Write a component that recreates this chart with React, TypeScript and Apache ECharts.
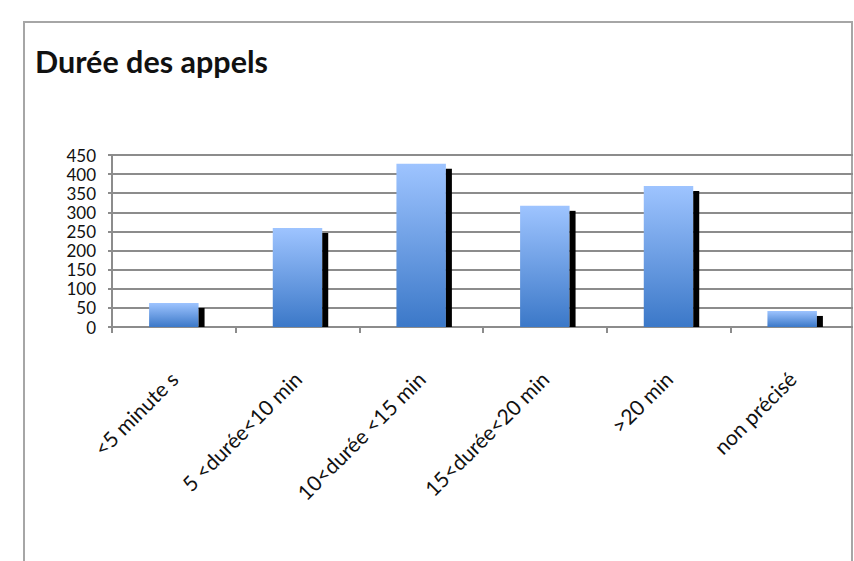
import React, { useEffect, useRef } from "react";
import * as echarts from "echarts";

const title = "Durée des appels";
const categories = ["<5 minute s", "5 <durée<10 min", "10<durée <15 min", "15<durée<20 min", ">20 min", "non précisé"];
const values = [63, 259, 427, 317, 369, 42];
const yTicks = { min: 0, max: 450, interval: 50 };

export default function App() {
  const ref = useRef<HTMLDivElement>(null);
  useEffect(() => {
    if (!ref.current) return;
    const chart = echarts.init(ref.current, null, { renderer: "svg" });
    const gradient = new echarts.graphic.LinearGradient(0, 0, 0, 1, [
      { offset: 0, color: "#9ec4ff" },
      { offset: 1, color: "#3b78c8" },
    ]);
    chart.setOption({
      animation: false,
      backgroundColor: "#ffffff",
      title: {
        text: title,
        left: 30,
        top: 40,
        textStyle: { fontFamily: "Lato", fontWeight: "bold", fontSize: 30.5, color: "#111111" },
      },
      graphic: [
        {
          type: "rect",
          z: -10,
          shape: { x: 24, y: 22, width: 828, height: 600 },
          style: { fill: "none", stroke: "#a6a6a6", lineWidth: 2 },
        },
        {
          type: "rect",
          z: 100,
          shape: { x: 853, y: 0, width: 4, height: 561 },
          style: { fill: "#ffffff" },
        },
      ],
      grid: { left: 112, top: 155, width: 750, height: 172, containLabel: false },
      xAxis: {
        type: "category",
        data: categories,
        axisLine: { show: true, lineStyle: { color: "#8c8c8c", width: 2 } },
        axisTick: { show: true, alignWithLabel: false, length: 6, lineStyle: { color: "#8c8c8c", width: 2 } },
        axisLabel: {
          rotate: 45,
          interval: 0,
          margin: 48,
          fontFamily: "Lato",
          fontSize: 21,
          color: "#111111",
        },
        splitLine: { show: false },
      },
      yAxis: {
        type: "value",
        min: yTicks.min,
        max: yTicks.max,
        interval: yTicks.interval,
        axisLine: { show: true, lineStyle: { color: "#8c8c8c", width: 2 } },
        axisTick: { show: true, length: 4, lineStyle: { color: "#8c8c8c", width: 2 } },
        axisLabel: { fontFamily: "Lato", fontSize: 17, color: "#111111", margin: 16 },
        splitLine: { show: true, lineStyle: { color: "#8c8c8c", width: 2 } },
      },
      series: [
        {
          type: "custom",
          data: values.map((v, i) => [i, v]),
          encode: { x: 0, y: 1 },
          renderItem: (params: any, api: any) => {
            const idx = api.value(0);
            const v = api.value(1);
            const top = api.coord([idx, v]);
            const base = api.coord([idx, 0]);
            const bw = api.size([1, 0])[0] * 0.4;
            const h = base[1] - top[1];
            return {
              type: "group",
              children: [
                {
                  type: "rect",
                  shape: { x: top[0] - bw / 2, y: top[1], width: bw, height: h },
                  style: { fill: gradient },
                },
                {
                  type: "rect",
                  shape: { x: top[0] + bw / 2, y: top[1] + 5, width: 6, height: Math.max(h - 5, 0) },
                  style: { fill: "#000000" },
                },
              ],
            };
          },
        },
      ],
    });
    return () => chart.dispose();
  }, []);
  return <div ref={ref} style={{ position: "fixed", left: 0, top: 0, width: 854, height: 561 }} />;
}
